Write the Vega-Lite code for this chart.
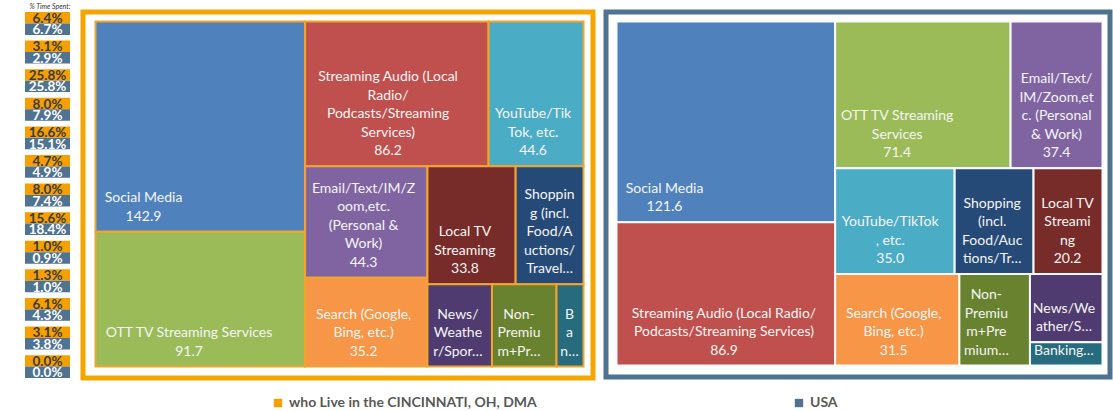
{
  "$schema": "https://vega.github.io/schema/vega-lite/v6.json",
  "background": "white",
  "padding": {"left": 25, "top": 2, "right": 0, "bottom": 0},
  "autosize": {"type": "pad"},
  "bounds": "flush",
  "spacing": 13,
  "config": {"view": {"stroke": null}, "font": "Lato"},
  "resolve": {"scale": {"color": "independent"}, "legend": {"color": "independent"}},
  "datasets": {
    "pct": [
      {"row": 1, "region": "CIN", "pct": 0.064}, {"row": 1, "region": "USA", "pct": 0.067},
      {"row": 2, "region": "CIN", "pct": 0.031}, {"row": 2, "region": "USA", "pct": 0.029},
      {"row": 3, "region": "CIN", "pct": 0.258}, {"row": 3, "region": "USA", "pct": 0.258},
      {"row": 4, "region": "CIN", "pct": 0.080}, {"row": 4, "region": "USA", "pct": 0.079},
      {"row": 5, "region": "CIN", "pct": 0.166}, {"row": 5, "region": "USA", "pct": 0.151},
      {"row": 6, "region": "CIN", "pct": 0.047}, {"row": 6, "region": "USA", "pct": 0.049},
      {"row": 7, "region": "CIN", "pct": 0.080}, {"row": 7, "region": "USA", "pct": 0.074},
      {"row": 8, "region": "CIN", "pct": 0.156}, {"row": 8, "region": "USA", "pct": 0.184},
      {"row": 9, "region": "CIN", "pct": 0.010}, {"row": 9, "region": "USA", "pct": 0.009},
      {"row": 10, "region": "CIN", "pct": 0.013}, {"row": 10, "region": "USA", "pct": 0.010},
      {"row": 11, "region": "CIN", "pct": 0.061}, {"row": 11, "region": "USA", "pct": 0.043},
      {"row": 12, "region": "CIN", "pct": 0.031}, {"row": 12, "region": "USA", "pct": 0.038},
      {"row": 13, "region": "CIN", "pct": 0.000}, {"row": 13, "region": "USA", "pct": 0.000}
    ],
    "cells": [
      {"region": "CIN", "cat": "Social Media", "value": 142.9, "strip": 1, "dir": "v", "ord": 1, "label": "Social Media", "trunc": false},
      {"region": "CIN", "cat": "OTT TV Streaming Services", "value": 91.7, "strip": 1, "dir": "v", "ord": 2, "label": "OTT TV Streaming Services", "trunc": false},
      {"region": "CIN", "cat": "Streaming Audio", "value": 86.2, "strip": 2, "dir": "h", "ord": 1, "label": "Streaming Audio (Local|Radio/|Podcasts/Streaming|Services)", "trunc": false},
      {"region": "CIN", "cat": "YouTube/TikTok", "value": 44.6, "strip": 2, "dir": "h", "ord": 2, "label": "YouTube/Tik|Tok, etc.", "trunc": false},
      {"region": "CIN", "cat": "Email/Text/IM/Zoom", "value": 44.3, "strip": 3, "dir": "v", "ord": 1, "label": "Email/Text/IM/Z|oom,etc.|(Personal &|Work)", "trunc": false},
      {"region": "CIN", "cat": "Search", "value": 35.2, "strip": 3, "dir": "v", "ord": 2, "label": "Search (Google,|Bing, etc.)", "trunc": false},
      {"region": "CIN", "cat": "Local TV Streaming", "value": 33.8, "strip": 4, "dir": "h", "ord": 1, "label": "Local TV|Streaming", "trunc": false},
      {"region": "CIN", "cat": "Shopping", "value": 26.0, "strip": 4, "dir": "h", "ord": 2, "label": "Shoppin|g (incl.|Food/A|uctions/|Travel…", "trunc": true},
      {"region": "CIN", "cat": "News/Weather/Sports", "value": 17.2, "strip": 5, "dir": "h", "ord": 1, "label": "News/|Weathe|r/Spor…", "trunc": true},
      {"region": "CIN", "cat": "Non-Premium+Premium", "value": 17.2, "strip": 5, "dir": "h", "ord": 2, "label": "Non-|Premiu|m+Pr…", "trunc": true},
      {"region": "CIN", "cat": "Banking", "value": 7.2, "strip": 5, "dir": "h", "ord": 3, "label": "B|a|n…", "trunc": true},
      {"region": "USA", "cat": "Social Media", "value": 121.6, "strip": 1, "dir": "v", "ord": 1, "label": "Social Media", "trunc": false},
      {"region": "USA", "cat": "Streaming Audio", "value": 86.9, "strip": 1, "dir": "v", "ord": 2, "label": "Streaming Audio (Local Radio/|Podcasts/Streaming Services)", "trunc": false},
      {"region": "USA", "cat": "OTT TV Streaming Services", "value": 71.4, "strip": 2, "dir": "h", "ord": 1, "label": "OTT TV Streaming|Services", "trunc": false},
      {"region": "USA", "cat": "Email/Text/IM/Zoom", "value": 37.4, "strip": 2, "dir": "h", "ord": 2, "label": "Email/Text/|IM/Zoom,et|c. (Personal|& Work)", "trunc": false},
      {"region": "USA", "cat": "YouTube/TikTok", "value": 35.0, "strip": 3, "dir": "h", "ord": 1, "label": "YouTube/TikTok|, etc.", "trunc": false},
      {"region": "USA", "cat": "Shopping", "value": 23.1, "strip": 3, "dir": "h", "ord": 2, "label": "Shopping|(incl.|Food/Auc|tions/Tr…", "trunc": true},
      {"region": "USA", "cat": "Local TV Streaming", "value": 20.2, "strip": 3, "dir": "h", "ord": 3, "label": "Local TV|Streami|ng", "trunc": false},
      {"region": "USA", "cat": "Search", "value": 31.5, "strip": 4, "dir": "v", "ord": 1, "label": "Search (Google,|Bing, etc.)", "trunc": false},
      {"region": "USA", "cat": "Non-Premium+Premium", "value": 17.9, "strip": 5, "dir": "v", "ord": 1, "label": "Non-|Premiu|m+Pre|mium…", "trunc": true},
      {"region": "USA", "cat": "News/Weather/Sports", "value": 13.7, "strip": 6, "dir": "v", "ord": 1, "label": "News/We|ather/S…", "trunc": true},
      {"region": "USA", "cat": "Banking", "value": 4.7, "strip": 6, "dir": "v", "ord": 2, "label": "Banking…", "trunc": true}
    ]
  },
  "hconcat": [
    {
      "data": {"name": "pct"},
      "width": 45,
      "height": 366,
      "encoding": {
        "x": {"datum": "% Time Spent:", "type": "nominal", "scale": {"paddingInner": 0, "paddingOuter": 0},
              "axis": {"orient": "top", "labels": false, "ticks": false, "domain": false, "title": "% Time Spent:", "titleFontSize": 7, "titleFontStyle": "italic", "titleFontWeight": "normal", "titleAnchor": "end", "titlePadding": 3, "titleColor": "#333333"}},
        "y": {"field": "row", "type": "ordinal", "scale": {"paddingInner": 0.2, "paddingOuter": 0}, "axis": null},
        "yOffset": {"field": "region", "type": "nominal", "scale": {"domain": ["CIN", "USA"], "paddingInner": 0, "paddingOuter": 0}}
      },
      "layer": [
        {"mark": {"type": "bar"},
         "encoding": {"color": {"field": "region", "type": "nominal", "scale": {"domain": ["CIN", "USA"], "range": ["#f5a000", "#4f7391"]}, "legend": null}}},
        {"mark": {"type": "text", "fontSize": 13.5, "fontWeight": "bold", "baseline": "middle", "dy": 1},
         "encoding": {"text": {"field": "pct", "type": "quantitative", "format": ".1%"},
                      "color": {"condition": {"test": "datum.region == 'CIN'", "value": "#3c3c3c"}, "value": "#ffffff"}}}
      ]
    },
    {
      "data": {"name": "cells"},
      "bounds": "flush",
      "spacing": 13,
      "resolve": {"scale": {"color": "independent"}, "legend": {"color": "independent"}},
      "transform": [
        {"joinaggregate": [{"op": "sum", "field": "value", "as": "S"}, {"op": "count", "as": "n"}], "groupby": ["region", "strip"]},
        {"window": [{"op": "sum", "field": "value", "as": "R"}], "sort": [{"field": "strip", "order": "descending"}], "groupby": ["region"], "frame": [null, 0]},
        {"calculate": "log(max(1 - datum.S / datum.R, 1e-9))", "as": "L"},
        {"calculate": "datum.dir == 'v' ? datum.L / datum.n : 0", "as": "lv"},
        {"calculate": "datum.dir == 'h' ? datum.L / datum.n : 0", "as": "lh"},
        {"window": [{"op": "sum", "field": "lv", "as": "cv"}, {"op": "sum", "field": "lh", "as": "ch"}], "sort": [{"field": "strip", "order": "ascending"}], "groupby": ["region"], "frame": [null, 0]},
        {"calculate": "exp(datum.cv - (datum.dir == 'v' ? datum.L : 0))", "as": "rw"},
        {"calculate": "exp(datum.ch - (datum.dir == 'h' ? datum.L : 0))", "as": "rh"},
        {"window": [{"op": "sum", "field": "value", "as": "ci"}], "sort": [{"field": "ord", "order": "ascending"}], "groupby": ["region", "strip"], "frame": [null, 0]},
        {"calculate": "datum.S / datum.R", "as": "f"},
        {"calculate": "1 - datum.rw + (datum.dir == 'h' ? datum.rw * (datum.ci - datum.value) / datum.S : 0)", "as": "x0"},
        {"calculate": "1 - datum.rw + (datum.dir == 'h' ? datum.rw * datum.ci / datum.S : datum.rw * datum.f)", "as": "x1"},
        {"calculate": "1 - datum.rh + (datum.dir == 'v' ? datum.rh * (datum.ci - datum.value) / datum.S : 0)", "as": "y0"},
        {"calculate": "1 - datum.rh + (datum.dir == 'v' ? datum.rh * datum.ci / datum.S : datum.rh * datum.f)", "as": "y1"},
        {"calculate": "datum.label + (datum.trunc ? '' : '|' + format(datum.value, '.1f'))", "as": "txt"},
        {"calculate": "split(datum.txt, '|')", "as": "parts"},
        {"calculate": "max(length(datum.parts[0] || ''), length(datum.parts[1] || ''), length(datum.parts[2] || ''), length(datum.parts[3] || ''), length(datum.parts[4] || ''))", "as": "ml"},
        {"calculate": "min((datum.x0 + datum.x1) / 2, datum.x0 + (6 + datum.ml * 3.5) / (datum.region == 'CIN' ? 488 : 486))", "as": "xt"},
        {"calculate": "datum.y1 - ((length(datum.parts) - 1) * 18.5 + 11) / (datum.region == 'CIN' ? 345 : 344)", "as": "yt"}
      ],
      "hconcat": [
        {
          "width": 510,
          "height": 366,
          "view": {"stroke": "#f5a500", "strokeWidth": 5},
          "transform": [{"filter": "datum.region == 'CIN'"}],
          "encoding": {
            "x": {"field": "x0", "type": "quantitative", "scale": {"domain": [0, 1], "range": [12.5, 500.5], "nice": false, "zero": false}, "axis": null},
            "y": {"field": "y0", "type": "quantitative", "scale": {"domain": [0, 1], "range": [9.5, 354.5], "nice": false, "zero": false}, "axis": null}
          },
          "layer": [
            {"mark": {"type": "rect", "strokeWidth": 2, "stroke": "#f2a52a"},
             "encoding": {
               "x2": {"field": "x1"},
               "y2": {"field": "y1"},
               "fill": {"field": "cat", "type": "nominal", "legend": null,
                        "scale": {"domain": ["Social Media", "OTT TV Streaming Services", "Streaming Audio", "YouTube/TikTok", "Email/Text/IM/Zoom", "Search", "Local TV Streaming", "Shopping", "News/Weather/Sports", "Non-Premium+Premium", "Banking"],
                                  "range": ["#4f81bd", "#9bbb59", "#c0504d", "#4bacc6", "#8064a2", "#f79646", "#772c2a", "#264a78", "#4f3b70", "#688230", "#266b7e"]}}
             }},
            {"mark": {"type": "text", "lineBreak": "|", "align": "center", "baseline": "alphabetic", "font": "Lato", "fontSize": 14, "lineHeight": 18.5, "color": "#f5f5f5"},
             "encoding": {"x": {"field": "xt", "type": "quantitative"}, "y": {"field": "yt", "type": "quantitative"}, "text": {"field": "txt"}}},
            {"transform": [{"filter": "datum.strip == 1 && datum.ord == 1"}],
             "mark": {"type": "point", "shape": "square", "filled": true, "opacity": 0},
             "encoding": {"x": {"field": "xt", "type": "quantitative"}, "y": {"field": "y1", "type": "quantitative"},
               "color": {"field": "region", "type": "nominal", "scale": {"domain": ["CIN"], "range": ["#f5a000"]},
                 "legend": {"orient": "none", "legendX": 188, "legendY": 384, "title": null, "symbolType": "square", "symbolSize": 70, "symbolOpacity": 1, "labelFontSize": 14, "labelFontWeight": "bold", "labelColor": "#595959", "labelFont": "Lato", "labelLimit": 500,
                            "labelExpr": "datum.label == 'CIN' ? 'who Live in the CINCINNATI, OH, DMA' : 'USA'"}}}}
          ]
        },
        {
          "width": 504,
          "height": 365,
          "view": {"stroke": "#4e7391", "strokeWidth": 5},
          "transform": [{"filter": "datum.region == 'USA'"}],
          "encoding": {
            "x": {"field": "x0", "type": "quantitative", "scale": {"domain": [0, 1], "range": [10.5, 496.5], "nice": false, "zero": false}, "axis": null},
            "y": {"field": "y0", "type": "quantitative", "scale": {"domain": [0, 1], "range": [9.5, 353.5], "nice": false, "zero": false}, "axis": null}
          },
          "layer": [
            {"mark": {"type": "rect", "strokeWidth": 2, "stroke": "#f7f9fb"},
             "encoding": {
               "x2": {"field": "x1"},
               "y2": {"field": "y1"},
               "fill": {"field": "cat", "type": "nominal", "legend": null,
                        "scale": {"domain": ["Social Media", "OTT TV Streaming Services", "Streaming Audio", "YouTube/TikTok", "Email/Text/IM/Zoom", "Search", "Local TV Streaming", "Shopping", "News/Weather/Sports", "Non-Premium+Premium", "Banking"],
                                  "range": ["#4f81bd", "#9bbb59", "#c0504d", "#4bacc6", "#8064a2", "#f79646", "#772c2a", "#264a78", "#4f3b70", "#688230", "#266b7e"]}}
             }},
            {"mark": {"type": "text", "lineBreak": "|", "align": "center", "baseline": "alphabetic", "font": "Lato", "fontSize": 14, "lineHeight": 18.5, "color": "#f5f5f5"},
             "encoding": {"x": {"field": "xt", "type": "quantitative"}, "y": {"field": "yt", "type": "quantitative"}, "text": {"field": "txt"}}},
            {"transform": [{"filter": "datum.strip == 1 && datum.ord == 1"}],
             "mark": {"type": "point", "shape": "square", "filled": true, "opacity": 0},
             "encoding": {"x": {"field": "xt", "type": "quantitative"}, "y": {"field": "y1", "type": "quantitative"},
               "color": {"field": "region", "type": "nominal", "scale": {"domain": ["USA"], "range": ["#4f7391"]},
                 "legend": {"orient": "none", "legendX": 186, "legendY": 384, "title": null, "symbolType": "square", "symbolSize": 70, "symbolOpacity": 1, "labelFontSize": 14, "labelFontWeight": "bold", "labelColor": "#595959", "labelFont": "Lato", "labelLimit": 500,
                            "labelExpr": "datum.label == 'CIN' ? 'who Live in the CINCINNATI, OH, DMA' : 'USA'"}}}}
          ]
        }
      ]
    }
  ]
}
